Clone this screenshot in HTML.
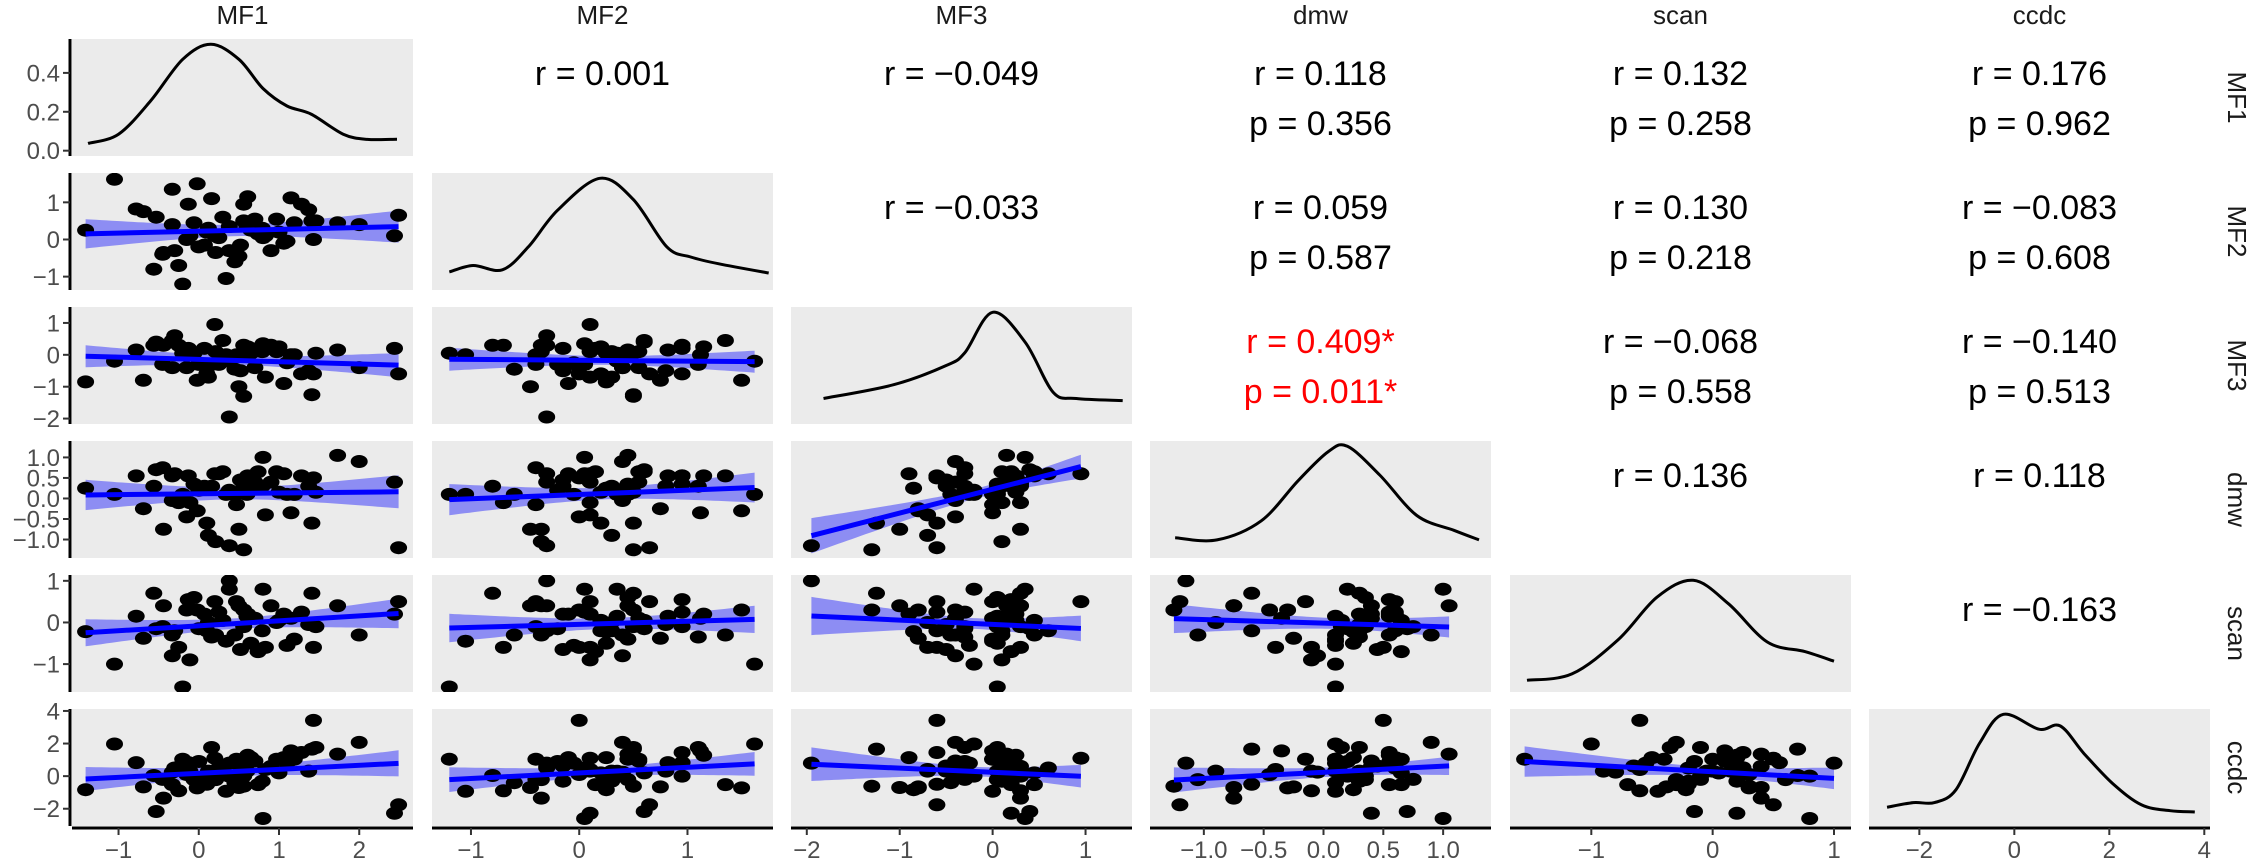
<!DOCTYPE html>
<html><head><meta charset="utf-8"><style>
html,body{margin:0;padding:0;background:#fff;}
svg{display:block;font-family:"Liberation Sans",Arial,sans-serif;}
</style></head><body>
<svg id="chart" xmlns="http://www.w3.org/2000/svg" width="2250" height="864" viewBox="0 0 2250 864"></svg>
<script>
// ---- data ----
const varNames = ["MF1","MF2","MF3","dmw","scan","ccdc"];
const MF1  = [-1.41,-1.05,-0.78,-0.69,-0.56,-0.53,-0.44,-0.33,-0.33,-0.20,-0.13,-0.11,-0.06,-0.02,0.07,0.16,0.12,0.21,0.25,0.34,0.38,0.47,0.52,0.56,0.56,0.61,0.65,0.70,0.74,0.79,0.83,0.97,1.06,1.15,1.19,1.28,1.37,1.41,1.43,1.46,1.73,2.00,2.44,2.49,0.38,-0.3,0.0,0.3,0.45,0.9,0.1,-0.45,0.6,1.1,-0.15,0.2,0.8,0.5,-0.25,1.0];
const MF2  = [0.25,1.62,0.82,0.75,-0.80,0.60,-0.35,1.35,0.40,-1.20,0.95,0.10,0.45,1.50,-0.15,1.10,0.30,-0.35,0.05,-1.05,0.35,-0.40,-0.15,0.95,0.50,1.15,0.25,0.55,0.15,0.30,0.10,0.55,-0.10,1.12,0.45,0.95,0.80,0.50,0.00,0.50,0.45,0.40,0.10,0.65,-0.30,-0.30,-0.20,0.60,-0.60,-0.30,0.20,-0.40,0.35,-0.05,0.00,0.10,0.05,-0.45,-0.70,0.20];
const MF3  = [-0.85,-0.20,0.15,-0.80,0.30,0.40,0.30,0.45,-0.40,0.05,0.20,0.10,0.05,-0.80,0.20,-0.30,-0.70,0.10,-0.30,0.00,-0.20,0.00,-0.50,0.30,-1.30,0.25,0.05,-0.40,0.20,0.10,-0.70,0.10,-0.90,0.00,0.00,-0.60,-0.50,-1.25,-0.60,0.05,0.15,-0.40,0.20,-0.60,-1.95,0.60,-0.30,0.45,-0.45,0.30,-0.60,-0.30,0.05,-0.25,-0.40,0.95,0.35,-1.00,0.30,0.25];
const dmw  = [0.25,0.10,0.55,-0.25,0.30,0.70,-0.75,0.55,-0.05,0.10,0.55,-0.10,0.35,-0.30,0.30,0.30,-0.90,-1.05,0.60,0.10,0.20,-0.15,0.45,0.35,-1.25,0.55,0.25,0.40,0.65,0.30,-0.40,0.65,0.60,-0.35,0.10,0.55,0.30,-0.60,0.50,0.15,1.05,0.90,0.40,-1.20,-1.15,0.60,0.20,0.65,0.10,0.40,-0.60,0.75,0.10,0.10,-0.45,0.60,1.00,-0.75,-0.10,0.15];
const scan = [-0.22,-1.00,0.15,-0.38,0.70,-0.15,0.40,-0.30,-0.80,-1.55,0.55,-0.90,0.60,0.30,0.20,-0.35,0.00,-0.30,0.25,-0.45,0.80,0.50,-0.65,-0.10,0.30,0.20,-0.50,0.10,-0.70,-0.20,-0.60,0.00,0.20,0.10,-0.40,0.25,-0.05,0.70,-0.60,-0.10,0.40,-0.30,0.20,0.50,1.00,-0.20,-0.15,0.05,-0.30,0.40,-0.20,-0.10,0.15,-0.55,0.30,0.50,0.80,0.40,-0.60,0.05];
const ccdc = [-0.83,1.97,0.83,-0.66,0.04,-2.17,-1.35,-0.52,0.25,1.04,0.83,0.31,-0.21,-0.72,-0.31,1.76,0.31,-0.21,0.52,-0.93,0.00,1.04,0.62,0.00,-0.62,1.28,1.14,0.93,-0.52,-0.31,0.41,1.04,1.14,1.55,1.04,1.45,0.31,1.66,3.42,1.76,1.35,2.07,-2.28,-1.76,0.8,0.5,0.9,0.2,-0.4,0.6,-0.5,-0.2,0.3,0.8,0.1,1.1,-2.6,-0.7,-0.9,0.2];
const seriesData = [MF1,MF2,MF3,dmw,scan,ccdc];
// axis domains per variable
const domMin = [-1.58,-1.36,-2.17,-1.45,-1.67,-3.06];
const domMax = [2.67,1.79,1.50,1.40,1.14,4.12];
// density curves (MF1 in density units, others relative)
const densX = [
 [-1.38,-1.0,-0.6,-0.2,0.15,0.5,0.8,1.1,1.4,1.8,2.1,2.47],
 [-1.2,-0.98,-0.71,-0.47,-0.2,0.19,0.5,0.81,1.03,1.29,1.75],
 [-1.82,-1.06,-0.5,-0.3,0.0,0.35,0.65,0.9,1.4],
 [-1.24,-0.89,-0.52,-0.21,0.04,0.2,0.47,0.78,1.09,1.30],
 [-1.53,-1.16,-0.78,-0.46,-0.16,0.13,0.45,0.76,1.0],
 [-2.68,-2.13,-1.68,-1.23,-0.73,-0.23,0.52,0.97,1.47,2.07,2.68,3.28,3.80]];
const densY = [
 [0.037,0.085,0.256,0.47,0.547,0.47,0.32,0.23,0.188,0.085,0.058,0.059],
 [0.12,0.18,0.14,0.355,0.70,1.0,0.80,0.355,0.26,0.196,0.11],
 [0.19,0.32,0.50,0.62,1.0,0.72,0.25,0.19,0.17],
 [0.14,0.12,0.30,0.68,0.95,1.0,0.73,0.35,0.21,0.12],
 [0.06,0.12,0.44,0.84,1.0,0.78,0.42,0.33,0.24],
 [0.126,0.17,0.17,0.29,0.73,1.0,0.86,0.89,0.63,0.35,0.148,0.094,0.082]];
const densMax = [0.547,1,1,1,1,1];
const ticksX = [[-1,0,1,2],[-1,0,1],[-2,-1,0,1],[-1,-0.5,0,0.5,1],[-1,0,1],[-2,0,2,4]];
const tickLabX = [["−1","0","1","2"],["−1","0","1"],["−2","−1","0","1"],["−1.0","−0.5","0.0","0.5","1.0"],["−1","0","1"],["−2","0","2","4"]];
const densTicks = [0,0.2,0.4];
const densTickLab = ["0.0","0.2","0.4"];
// correlation text
const corrRow = [0,0,0,0,0,1,1,1,1,2,2,2,3,3,4];
const corrCol = [1,2,3,4,5,2,3,4,5,3,4,5,4,5,5];
const corrR = ["0.001","−0.049","0.118","0.132","0.176","−0.033","0.059","0.130","−0.083","0.409*","−0.068","−0.140","0.136","0.118","−0.163"];
const corrP = ["","","0.356","0.258","0.962","","0.587","0.218","0.608","0.011*","0.558","0.513","","",""];
const corrSig = [0,0,0,0,0,0,0,0,0,1,0,0,0,0,0];

// ---- layout ----
const X0 = [72,432,791,1150,1510,1869], PW = 341;
const Y0 = [39,173,307,441,575,709], PH = 117;
const svg = document.getElementById('chart');
const NS = 'http://www.w3.org/2000/svg';
function mk(tag, attrs, parent){const e=document.createElementNS(NS,tag);for(const k in attrs)e.setAttribute(k,attrs[k]);(parent||svg).appendChild(e);return e;}
function sx(v,c){return X0[c]+(v-domMin[c])/(domMax[c]-domMin[c])*PW;}
function sy(v,r){return Y0[r]+PH-(v-domMin[r])/(domMax[r]-domMin[r])*PH;}
function dy(v,r){const m=densMax[r];const lo=-0.05*m,hi=1.05*m;return Y0[r]+PH-(v-lo)/(hi-lo)*PH;}
function smoothPath(pts){let d='M'+pts[0][0]+','+pts[0][1];for(let i=0;i<pts.length-1;i++){const p0=pts[i-1]||pts[i],p1=pts[i],p2=pts[i+1],p3=pts[i+2]||p2;const c1=[p1[0]+(p2[0]-p0[0])/6,p1[1]+(p2[1]-p0[1])/6],c2=[p2[0]-(p3[0]-p1[0])/6,p2[1]-(p3[1]-p1[1])/6];d+=' C'+c1[0].toFixed(1)+','+c1[1].toFixed(1)+' '+c2[0].toFixed(1)+','+c2[1].toFixed(1)+' '+p2[0].toFixed(1)+','+p2[1].toFixed(1);}return d;}

const defs = mk('defs',{});
varNames.forEach((n,c)=>{
  const t=mk('text',{x:X0[c]+PW/2,y:24,'text-anchor':'middle','font-size':26,fill:'#1a1a1a'});
  t.textContent=n;
  
  
  const s=mk('text',{x:0,y:0,'text-anchor':'middle','font-size':26,fill:'#1a1a1a',transform:'translate(2228,'+(Y0[c]+PH/2)+') rotate(90)'});
  s.textContent=n;
  
  
});

for(let r=0;r<6;r++){
  for(let c=0;c<6;c++){
    if(c>r) continue;
    const g=mk('g',{});
    
    
    mk('rect',{x:X0[c],y:Y0[r],width:PW,height:PH,fill:'#ebebeb'},g);
    const cp=mk('clipPath',{id:'cp'+r+c},defs);
    mk('rect',{x:X0[c],y:Y0[r],width:PW,height:PH},cp);
    const inner=mk('g',{'clip-path':'url(#cp'+r+c+')'},g);
    if(c===r){
      const pts=densX[r].map((v,i)=>[sx(v,c),dy(densY[r][i],r)]);
      const p=mk('path',{d:smoothPath(pts),fill:'none',stroke:'#000','stroke-width':3,'stroke-linejoin':'round'},inner);
      
      
    } else {
      const xs=seriesData[c], ys=seriesData[r], n=xs.length;
      const mx=xs.reduce((a,b)=>a+b,0)/n, my=ys.reduce((a,b)=>a+b,0)/n;
      let sxx=0,sxy=0;for(let i=0;i<n;i++){sxx+=(xs[i]-mx)**2;sxy+=(xs[i]-mx)*(ys[i]-my);}
      const b=sxy/sxx,a=my-b*mx;let sse=0;for(let i=0;i<n;i++)sse+=(ys[i]-a-b*xs[i])**2;
      const s=Math.sqrt(sse/(n-2)),t=2.0;
      const xmin=Math.min(...xs),xmax=Math.max(...xs);
      const up=[],lo=[];
      for(let k=0;k<=60;k++){const xv=xmin+(xmax-xmin)*k/60;const se=s*Math.sqrt(1/n+(xv-mx)**2/sxx);const f=a+b*xv;up.push([sx(xv,c),sy(f+t*se,r)]);lo.push([sx(xv,c),sy(f-t*se,r)]);}
      const bd='M'+up.map(p=>p[0].toFixed(1)+','+p[1].toFixed(1)).join(' L')+' L'+lo.reverse().map(p=>p[0].toFixed(1)+','+p[1].toFixed(1)).join(' L')+' Z';
      const band=mk('path',{d:bd,fill:'rgba(0,0,255,0.4)'},inner);
      
      
      for(let i=0;i<n;i++){
        const e=mk('ellipse',{cx:sx(xs[i],c).toFixed(1),cy:sy(ys[i],r).toFixed(1),rx:8.5,ry:6.5,fill:'#000'},inner);
        
        
      }
      const ln=mk('line',{x1:sx(xmin,c),y1:sy(a+b*xmin,r),x2:sx(xmax,c),y2:sy(a+b*xmax,r),stroke:'#0000ff','stroke-width':5},inner);
      
      
    }
  }
}

for(let k=0;k<corrRow.length;k++){
  const r=corrRow[k],c=corrCol[k],col=corrSig[k]?'#ff0000':'#000';
  const cx=X0[c]+PW/2;
  const t=mk('text',{x:cx,y:Y0[r]+46,'text-anchor':'middle','font-size':34,fill:col});
  t.textContent='r = '+corrR[k];
  
  
  if(corrP[k]){
    const p=mk('text',{x:cx,y:Y0[r]+96,'text-anchor':'middle','font-size':34,fill:col});
    p.textContent='p = '+corrP[k];
    
    
  }
}

for(let r=0;r<6;r++){
  const g=mk('g',{});
  
  
  mk('line',{x1:70,y1:Y0[r],x2:70,y2:Y0[r]+PH,stroke:'#000','stroke-width':3},g);
  const tv = r===0?densTicks:ticksX[r], tl = r===0?densTickLab:tickLabX[r];
  tv.forEach((v,i)=>{
    const y = r===0?dy(v,0):sy(v,r);
    mk('line',{x1:63,y1:y,x2:70,y2:y,stroke:'#333','stroke-width':2},g);
    const t=mk('text',{x:60,y:y+8.5,'text-anchor':'end','font-size':24,fill:'#4d4d4d'},g);
    t.textContent=tl[i];
  });
}
for(let c=0;c<6;c++){
  const g=mk('g',{});
  
  
  mk('line',{x1:X0[c],y1:828,x2:X0[c]+PW,y2:828,stroke:'#000','stroke-width':3},g);
  ticksX[c].forEach((v,i)=>{
    const x=sx(v,c);
    mk('line',{x1:x,y1:828,x2:x,y2:835,stroke:'#333','stroke-width':2},g);
    const t=mk('text',{x:x,y:858,'text-anchor':'middle','font-size':24,fill:'#4d4d4d'},g);
    t.textContent=tickLabX[c][i];
  });
}
</script>
</body></html>
